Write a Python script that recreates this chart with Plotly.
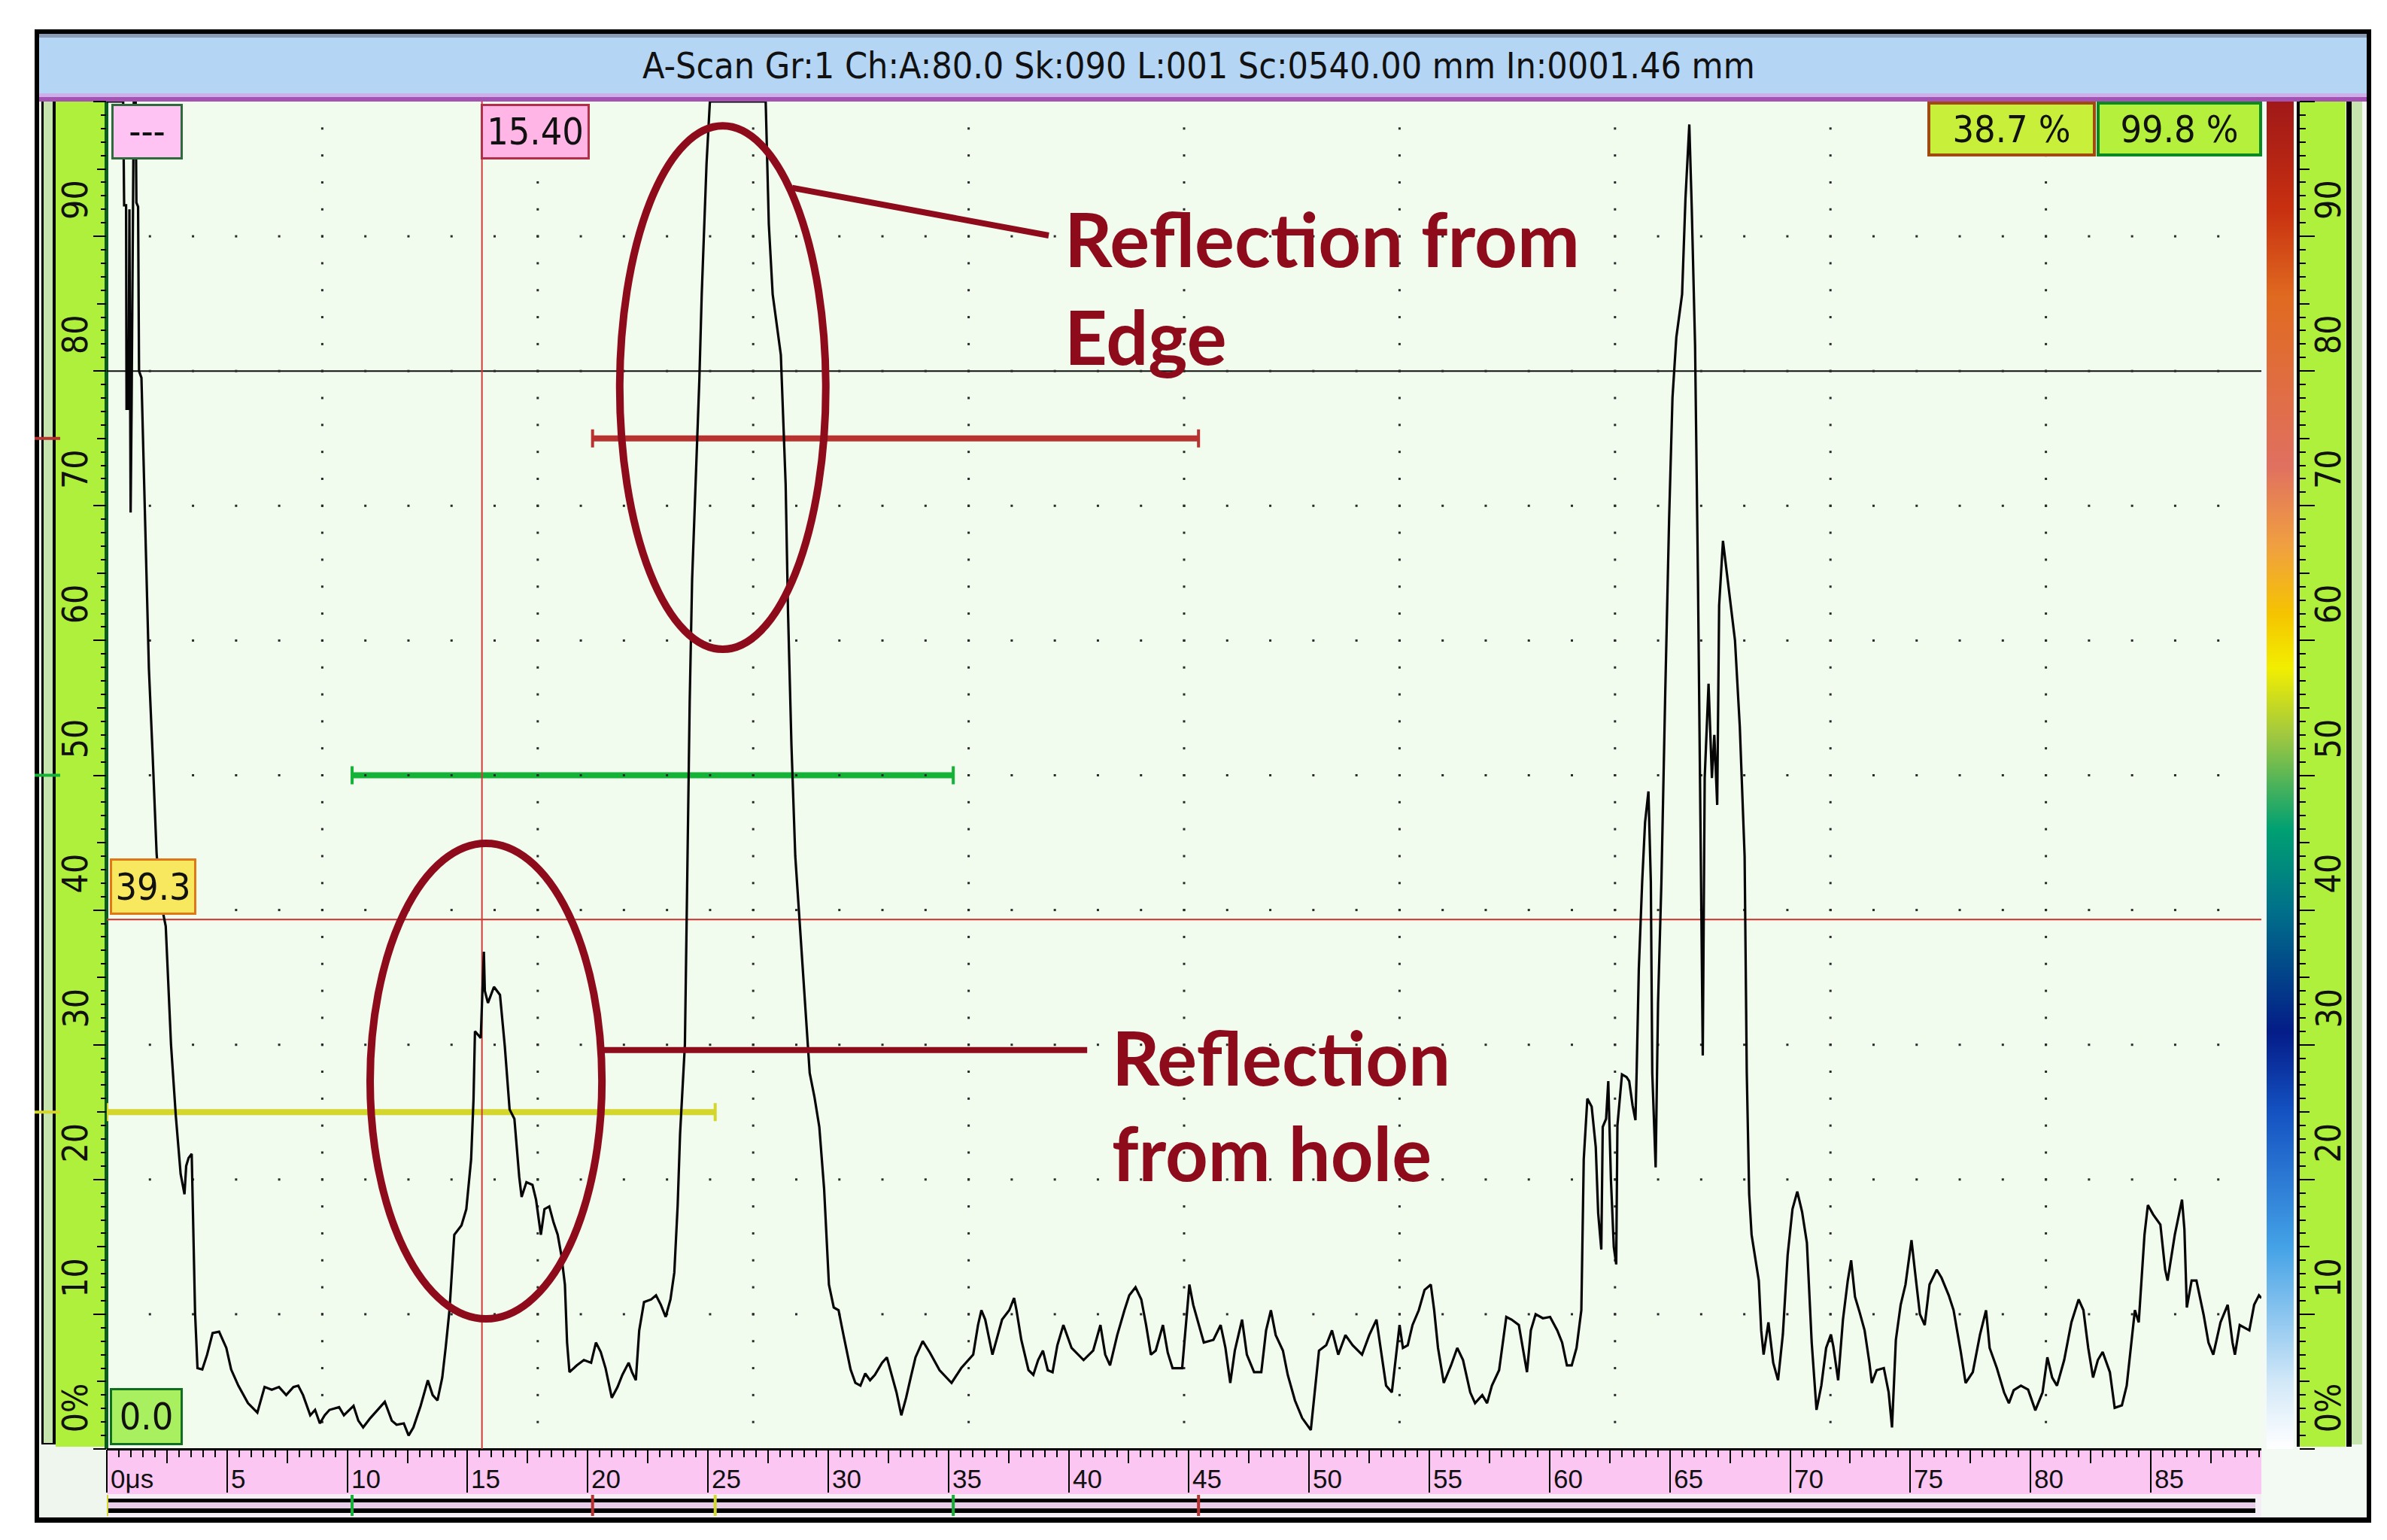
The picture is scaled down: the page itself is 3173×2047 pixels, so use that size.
import numpy as np
import plotly.graph_objects as go

W, H = 3173, 2047

# ---------------- data ----------------
t_us = [0.00, 0.68, 0.72, 0.80, 0.82, 0.90, 0.94, 0.99, 1.03, 1.08, 1.12, 1.20, 1.23, 1.30, 1.34, 1.44,
        1.60, 1.75, 1.91, 2.07, 2.20, 2.45, 2.67, 2.87, 3.07, 3.23, 3.30, 3.40, 3.53, 3.57, 3.67, 3.77,
        3.97, 4.17, 4.40, 4.67, 4.97, 5.17, 5.47, 5.87, 6.26, 6.56, 6.86, 7.16, 7.46, 7.76, 7.96, 8.16,
        8.46, 8.66, 8.86, 9.06, 9.26, 9.66, 9.86, 10.26, 10.46, 10.66, 10.96, 11.26, 11.56, 11.85, 12.05,
        12.35, 12.55, 12.75, 13.05, 13.35, 13.55, 13.75, 13.95, 14.09, 14.25, 14.45, 14.75, 14.95, 15.15,
        15.25, 15.31, 15.55, 15.68, 15.72, 15.85, 16.10, 16.35, 16.55, 16.75, 16.95, 17.15, 17.25, 17.45,
        17.70, 17.85, 18.05, 18.20, 18.40, 18.58, 18.75, 18.90, 19.05, 19.14, 19.24, 19.54, 19.84, 20.14,
        20.34, 20.54, 20.74, 21.00, 21.24, 21.44, 21.70, 21.84, 22.00, 22.14, 22.34, 22.64, 22.84, 23.04,
        23.24, 23.44, 23.60, 23.74, 23.84, 23.94, 24.04, 24.14, 24.24, 24.34, 24.48, 24.64, 24.74, 24.94,
        25.08, 27.40, 27.53, 27.69, 28.03, 28.23, 28.33, 28.47, 28.63, 28.83, 29.03, 29.23, 29.43, 29.63,
        29.83, 29.93, 30.03, 30.23, 30.43, 30.63, 30.93, 31.13, 31.34, 31.54, 31.74, 31.94, 32.24, 32.44,
        32.64, 32.84, 33.04, 33.24, 33.43, 33.63, 33.93, 34.23, 34.63, 35.13, 35.53, 35.83, 36.03, 36.23,
        36.37, 36.53, 36.83, 37.23, 37.53, 37.73, 37.83, 38.03, 38.33, 38.53, 38.73, 38.93, 39.13, 39.33,
        39.53, 39.78, 40.12, 40.62, 41.02, 41.32, 41.52, 41.72, 42.02, 42.32, 42.52, 42.78, 43.02, 43.22,
        43.42, 43.62, 43.92, 44.12, 44.32, 44.72, 44.92, 45.02, 45.18, 45.42, 45.62, 46.02, 46.32, 46.52,
        46.72, 46.91, 47.21, 47.41, 47.71, 48.01, 48.21, 48.41, 48.61, 48.91, 49.11, 49.41, 49.71, 50.07,
        50.21, 50.41, 50.71, 50.95, 51.21, 51.51, 51.81, 52.20, 52.50, 52.80, 53.00, 53.20, 53.44, 53.60,
        53.76, 53.90, 54.10, 54.30, 54.56, 54.80, 55.06, 55.20, 55.36, 55.60, 55.90, 56.16, 56.40, 56.70,
        56.90, 57.20, 57.40, 57.60, 57.90, 58.20, 58.42, 58.72, 58.92, 59.06, 59.22, 59.42, 59.72, 60.02,
        60.32, 60.52, 60.72, 60.92, 61.12, 61.32, 61.42, 61.57, 61.75, 61.92, 62.02, 62.15, 62.21, 62.35,
        62.44, 62.55, 62.67, 62.77, 62.82, 63.01, 63.20, 63.31, 63.45, 63.57, 63.62, 63.71, 63.85, 63.97,
        64.11, 64.21, 64.27, 64.41, 64.51, 64.65, 64.81, 64.97, 65.11, 65.27, 65.51, 65.65, 65.81, 65.91,
        66.05, 66.17, 66.31, 66.37, 66.45, 66.61, 66.75, 66.85, 66.97, 67.05, 67.21, 67.41, 67.71, 67.91,
        68.11, 68.20, 68.30, 68.40, 68.70, 68.80, 68.90, 69.10, 69.30, 69.50, 69.70, 69.90, 70.10, 70.30,
        70.50, 70.70, 70.90, 71.10, 71.30, 71.50, 71.70, 71.80, 72.00, 72.20, 72.40, 72.54, 72.70, 72.90,
        73.10, 73.30, 73.40, 73.60, 73.90, 74.10, 74.24, 74.40, 74.60, 74.80, 75.05, 75.20, 75.40, 75.60,
        75.80, 76.10, 76.30, 76.60, 76.80, 77.10, 77.30, 77.60, 77.90, 78.15, 78.30, 78.60, 78.90, 79.10,
        79.30, 79.60, 79.90, 80.20, 80.50, 80.70, 80.90, 81.10, 81.40, 81.70, 82.00, 82.20, 82.40, 82.60,
        82.80, 83.00, 83.30, 83.50, 83.80, 84.00, 84.20, 84.34, 84.50, 84.60, 84.74, 84.88, 85.10, 85.40,
        85.60, 85.70, 86.00, 86.30, 86.40, 86.50, 86.70, 86.90, 87.20, 87.40, 87.60, 87.90, 88.10, 88.20,
        88.40, 88.50, 88.70, 88.90, 89.10, 89.30, 89.50, 89.60]
amp_pct = [100, 100, 92.3, 92.3, 77.2, 77.2, 92.0, 69.5, 77.2, 92.2, 100, 100, 92.5, 92.2, 80.0, 79.5,
           67.6, 57.9, 51.3, 44.2, 41.0, 38.8, 30.0, 24.7, 20.4, 18.9, 21.0, 21.6, 21.9, 17.8, 10.1, 6.0,
           5.9, 7.0, 8.6, 8.7, 7.5, 5.9, 4.7, 3.4, 2.7, 4.6, 4.4, 4.6, 4.0, 4.6, 4.7, 4.0,
           2.5, 2.9, 1.9, 2.5, 2.9, 3.1, 2.5, 3.2, 2.1, 1.6, 2.3, 2.9, 3.5, 2.1, 1.8,
           1.9, 1.0, 1.6, 3.2, 5.1, 4.0, 3.6, 5.3, 7.5, 10.3, 15.9, 16.6, 17.8, 21.5,
           26.0, 31.0, 30.5, 36.9, 34.0, 33.1, 34.3, 33.7, 29.9, 25.2, 24.5, 20.2, 18.7, 19.8,
           19.6, 18.5, 15.9, 17.8, 18.0, 16.8, 15.9, 14.4, 12.2, 7.9, 5.7, 6.2, 6.6, 6.4,
           7.9, 7.2, 6.0, 3.8, 4.6, 5.5, 6.4, 5.7, 5.1, 8.8, 10.9, 11.1, 11.4, 10.7,
           9.8, 11.1, 13.1, 18.1, 23.4, 27.1, 30.0, 42.7, 55.5, 64.5, 71.6, 79.3, 85.7, 95.4,
           100, 100, 90.9, 85.7, 81.2, 71.6, 62.0, 52.3, 44.0, 38.8, 33.7, 27.9, 26.1, 23.9,
           19.3, 15.9, 12.2, 10.5, 10.3, 8.5, 5.9, 4.9, 4.7, 5.6, 5.1, 5.5, 6.4, 6.8,
           5.5, 4.2, 2.5, 3.8, 5.3, 6.8, 8.0, 7.15, 5.85, 4.9, 6.0, 6.6, 7.0, 9.2,
           10.3, 9.6, 7.0, 9.6, 10.3, 11.2, 10.3, 8.1, 5.85, 5.5, 6.6, 7.3, 5.85, 5.7,
           7.7, 9.2, 7.5, 6.6, 7.3, 9.2, 7.0, 6.2, 8.45, 10.3, 11.4, 12.0, 11.1, 9.2,
           7.0, 7.3, 9.2, 7.15, 6.0, 6.0, 10.3, 12.2, 10.7, 9.2, 7.9, 8.1, 9.2, 7.5,
           4.9, 7.3, 9.6, 7.0, 5.7, 5.7, 8.8, 10.3, 8.45, 7.3, 5.5, 3.6, 2.3, 1.4,
           3.8, 7.3, 7.7, 8.8, 7.0, 8.45, 7.7, 7.0, 8.45, 9.6, 7.15, 4.7, 4.2, 6.6,
           9.2, 7.5, 7.7, 9.2, 10.3, 11.8, 12.2, 10.3, 7.5, 4.9, 6.2, 7.5, 6.6, 4.2,
           3.4, 4.0, 3.4, 4.7, 5.85, 9.8, 9.6, 9.2, 7.0, 5.7, 8.8, 10.0, 9.7, 9.8,
           8.8, 7.9, 6.2, 6.2, 7.5, 10.3, 21.5, 26.0, 25.4, 22.4, 17.5, 14.8, 23.9, 24.5,
           27.3, 20.0, 15.0, 13.7, 24.0, 27.8, 27.6, 27.3, 25.5, 24.4, 28.0, 35.6, 42.1, 46.5,
           48.8, 42.1, 27.9, 20.9, 33.1, 42.1, 56.2, 69.0, 78.0, 82.5, 85.7, 92.8, 98.3, 92.2,
           81.9, 64.5, 40.1, 29.2, 49.8, 56.8, 49.8, 53.0, 47.8, 62.6, 67.4, 64.5, 60.0, 53.6,
           44.0, 27.9, 18.9, 15.9, 12.5, 8.8, 7.0, 9.4, 6.4, 5.1, 8.5, 14.4, 17.8, 19.1,
           17.6, 15.3, 7.9, 2.9, 4.7, 7.5, 8.5, 7.6, 5.1, 9.6, 12.5, 14.0, 11.3, 10.1,
           8.8, 6.4, 4.9, 5.85, 6.0, 4.2, 1.6, 8.1, 10.7, 12.2, 15.5, 13.1, 10.0, 9.2,
           12.2, 13.3, 12.7, 11.4, 10.3, 7.2, 4.9, 5.7, 8.5, 10.3, 7.5, 6.0, 4.2, 3.4,
           4.36, 4.7, 4.4, 2.87, 4.2, 6.8, 5.3, 4.7, 6.6, 9.4, 11.1, 10.3, 7.5, 5.3,
           6.6, 7.2, 5.7, 3.05, 3.24, 4.7, 8.1, 10.3, 9.4, 12.2, 15.9, 18.1, 17.4, 16.65,
           13.3, 12.5, 15.9, 18.5, 16.3, 10.5, 12.5, 12.5, 9.95, 7.9, 7.0, 9.4, 10.3, 10.7,
           7.9, 7.0, 9.2, 9.0, 8.8, 10.7, 11.4, 11.2]

x_tick_vals = [0, 5, 10, 15, 20, 25, 30, 35, 40, 45, 50, 55, 60, 65, 70, 75, 80, 85]
x_tick_text = ["0μs", "5", "10", "15", "20", "25", "30", "35", "40", "45", "50", "55", "60",
               "65", "70", "75", "80", "85"]
x_mid_vals = [2.5, 7.5, 12.5, 17.5, 22.5, 27.5, 32.5, 37.5, 42.5, 47.5, 52.5, 57.5, 62.5,
              67.5, 72.5, 77.5, 82.5, 87.5]
y_tick_vals = [0, 10, 20, 30, 40, 50, 60, 70, 80, 90]
y_tick_text = ["0%", "10", "20", "30", "40", "50", "60", "70", "80", "90"]
y_mid_vals = [5, 15, 25, 35, 45, 55, 65, 75, 85, 95]

gate_start = [0.0, 10.2, 20.2]
gate_end = [25.3, 35.2, 45.4]
gate_level = [25, 50, 75]
gate_color = ["#d4d62c", "#14b236", "#b83330"]

level_black = 80.0
level_ref = 39.3
cursor_t = 15.6
cursor_text = "15.40"
readout_text = ["38.7 %", "99.8 %"]
ref_text = "39.3"
zero_text = "0.0"
title_text = "A-Scan Gr:1 Ch:A:80.0 Sk:090 L:001 Sc:0540.00 mm In:0001.46 mm"
X_MAX = 89.6

# ---------------- geometry / style ----------------
NARROW = "Liberation Sans Narrow, Arial Narrow, DejaVu Sans Condensed, Liberation Sans, sans-serif"
REG = "Liberation Sans, Arial, sans-serif"
BOLD = "Lato, Carlito, Calibri, sans-serif"
ANN_RED = "#8e0b1c"
PX0, PX1, PY0, PY1 = 134, 2998, 127, 1918


def fx(px):
    return px / W


def fy(py):
    return 1 - py / H


shapes = []


def prect(x0, y0, x1, y1, fill, layer="below"):
    shapes.append(dict(type="rect", xref="paper", yref="paper", x0=fx(x0), x1=fx(x1),
                       y0=fy(y1), y1=fy(y0), fillcolor=fill, line=dict(width=0), layer=layer))


# frame pieces (outside the plot area)
prect(38, 31, 3144, 127, "#000000")
prect(44, 37, 3138, 120, "#b5d5f5")
prect(44, 37, 3138, 42, "#8a9bb5")
prect(44, 116, 3138, 121, "#cdb0ea")
prect(44, 121, 3138, 127, "#a452b4")
prect(38, 127, PX0, 2016, "#000000")
prect(44, 127, PX0, 2009, "#eef6ee")
prect(47, 127, 66, 1912, "#000000")
prect(50, 127, 62, 1910, "#c6e4ae")
prect(66, 127, 132, 1915, "#aef03c")
prect(131, 127, 136, 1918, "#0b5d1f")
prect(PX1, 127, 3144, 2016, "#000000")
prect(PX1, 127, 3138, 2009, "#f3f9f3")
prect(3045, 127, 3049, 1915, "#000000")
prect(3049, 127, 3110, 1915, "#aef03c")
prect(3111, 127, 3118, 1915, "#000000")
prect(3118, 127, 3132, 1912, "#c6e4ae")
prect(PX0, PY1, PX1, 2016, "#000000")
prect(PX0, PY1, PX1, 2009, "#f6eef6")
prect(PX0, PY1, PX1, 1978, "#fbc6f2")
prect(PX0, PY1 - 1, PX1, PY1 + 2, "#000000")
prect(136, 1984, 2990, 2003, "#000000")
prect(136, 1989, 2990, 1997, "#e8cce8")

# gate markers on the bottom bar and on the left strip
for s, e, c in zip(gate_start, gate_end, gate_color):
    for xv in (s, e):
        shapes.append(dict(type="line", xref="x", yref="paper", x0=xv, x1=xv,
                           y0=fy(2007), y1=fy(1979), line=dict(color=c, width=4), layer="below"))
for lv, c in zip(gate_level, gate_color):
    shapes.append(dict(type="line", xref="paper", yref="y", x0=fx(38), x1=fx(72), y0=lv, y1=lv,
                       line=dict(color=c, width=4), layer="below"))

# reference lines, gates, cursor (below the trace)
shapes.append(dict(type="line", xref="x", yref="y", x0=0, x1=X_MAX, y0=level_black, y1=level_black,
                   line=dict(color="#111111", width=2), layer="below"))
shapes.append(dict(type="line", xref="x", yref="y", x0=0, x1=X_MAX, y0=level_ref, y1=level_ref,
                   line=dict(color="#c8322e", width=2), layer="below"))
for s, e, lv, c in zip(gate_start, gate_end, gate_level, gate_color):
    shapes.append(dict(type="line", xref="x", yref="y", x0=s, x1=e, y0=lv, y1=lv,
                       line=dict(color=c, width=8), layer="below"))
    for xv in (s, e):
        shapes.append(dict(type="line", xref="x", yref="y", ysizemode="pixel", yanchor=lv,
                           x0=xv, x1=xv, y0=-12, y1=12, line=dict(color=c, width=4), layer="below"))
shapes.append(dict(type="line", xref="x", yref="y", x0=cursor_t, x1=cursor_t, y0=0, y1=100,
                   line=dict(color="#d03a3a", width=2), layer="below"))

# annotation ellipses and leader lines
shapes.append(dict(type="circle", xref="x", yref="y", x0=21.33, x1=29.9, y0=59.35, y1=98.2,
                   line=dict(color=ANN_RED, width=10), layer="above"))
shapes.append(dict(type="circle", xref="x", yref="y", x0=10.95, x1=20.59, y0=9.66, y1=44.95,
                   line=dict(color=ANN_RED, width=10), layer="above"))
shapes.append(dict(type="line", xref="x", yref="y", x0=28.5, y0=93.6, x1=39.17, y1=90.06,
                   line=dict(color=ANN_RED, width=8), layer="above"))
shapes.append(dict(type="line", xref="x", yref="y", x0=20.62, y0=29.6, x1=40.77, y1=29.6,
                   line=dict(color=ANN_RED, width=8), layer="above"))

# ---------------- annotations ----------------
annotations = []


def box(text, x0, y0, x1, y1, bg, border, bw=3, size=50, font=NARROW, color="#111111"):
    annotations.append(dict(text=text, xref="paper", yref="paper", x=fx((x0 + x1) / 2),
                            y=fy((y0 + y1) / 2), xanchor="center", yanchor="middle",
                            showarrow=False, width=x1 - x0 - 2 * bw, height=y1 - y0 - 2 * bw,
                            bgcolor=bg, bordercolor=border, borderwidth=bw, borderpad=0,
                            font=dict(family=font, size=size, color=color), align="center",
                            valign="middle"))


annotations.append(dict(text=title_text, xref="paper", yref="paper", x=fx(1585), y=fy(79),
                        xanchor="center", yanchor="middle", showarrow=False,
                        font=dict(family=NARROW, size=48, color="#111111")))
box("---", 140, 130, 235, 204, "#ffc3f3", "#2e6b3c")
box(cursor_text, 631, 130, 776, 204, "#ffb6e6", "#b0304a")
box(readout_text[0], 2554, 127, 2778, 200, "#c8f03a", "#a04a10", bw=4)
box(readout_text[1], 2779, 127, 2999, 200, "#b4f03c", "#0a8a20", bw=4)
box(ref_text, 138, 1133, 253, 1208, "#f8e860", "#e07818")
box(zero_text, 138, 1837, 235, 1913, "#a8f060", "#107020")

for v, t in zip(y_tick_vals, y_tick_text):
    for xc in (92, 3087):
        annotations.append(dict(text=t, xref="paper", yref="y", x=fx(xc), y=v + 1.1,
                                xanchor="center", yanchor="bottom", textangle=-90, showarrow=False,
                                font=dict(family=NARROW, size=46, color="#111111")))
for v, t in zip(x_tick_vals, x_tick_text):
    annotations.append(dict(text=t, xref="x", yref="paper", x=v, y=fy(1957), xanchor="left",
                            yanchor="middle", xshift=3, showarrow=False,
                            font=dict(family=REG, size=35, color="#111111")))

for txt, xl, yc in [("Reflection from", 1405, 308), ("Edge", 1405, 438),
                    ("Reflection", 1468, 1396), ("from hole", 1468, 1523)]:
    annotations.append(dict(text=txt, xref="paper", yref="paper", x=fx(xl), y=fy(yc),
                            xanchor="left", yanchor="middle", showarrow=False,
                            font=dict(family=BOLD, size=99, color=ANN_RED, weight="bold")))

# ---------------- traces ----------------
gx_cols = [X_MAX / 10 * k for k in range(1, 10)]
gy_rows = [10 * k for k in range(1, 10)]
dots_x, dots_y = [], []
for xc in gx_cols:
    for j in range(1, 50):
        dots_x.append(xc)
        dots_y.append(2 * j)
for yr in gy_rows:
    for m in range(1, 50):
        dots_x.append(X_MAX / 50 * m)
        dots_y.append(yr)

fig = go.Figure()
fig.add_trace(go.Scatter(x=dots_x, y=dots_y, mode="markers", hoverinfo="skip",
                         marker=dict(symbol="square", size=3, color="#2a2a2a", line=dict(width=0))))
fig.add_trace(go.Scatter(x=t_us, y=amp_pct, mode="lines", line=dict(color="#050505", width=3.2),
                         name="A-Scan"))
for xa, ya in [("x2", "y"), ("x", "y2"), ("x", "y3"), ("x", "y4")]:
    fig.add_trace(go.Scatter(x=[None], y=[None], xaxis=xa, yaxis=ya, hoverinfo="skip"))

levels = [i * 0.5 for i in range(201)]
cscale = [[0.0, "#ffffff"], [0.05, "#d2e8f8"], [0.15, "#44a2e6"], [0.25, "#1452c2"],
          [0.31, "#041c88"], [0.40, "#00708a"], [0.46, "#00a072"], [0.53, "#a0c840"],
          [0.58, "#f2ee00"], [0.62, "#f5c400"], [0.67, "#f0a040"], [0.73, "#e07060"],
          [0.855, "#e06a20"], [0.92, "#c83010"], [1.0, "#a01818"]]
fig.add_trace(go.Heatmap(x=[0], y=levels, z=[[v] for v in levels], colorscale=cscale,
                         zmin=0, zmax=100, showscale=False, xaxis="x3", yaxis="y5",
                         hoverinfo="skip", zsmooth="best"))

ydom = [fy(PY1), fy(PY0)]
tick_common = dict(showgrid=False, zeroline=False, showline=False, showticklabels=False,
                   tickcolor="#000000", tickwidth=2, ticks="outside")

fig.update_layout(
    width=W, height=H, margin=dict(l=0, r=0, t=0, b=0), autosize=False,
    paper_bgcolor="#ffffff", plot_bgcolor="#f1fbee", showlegend=False,
    xaxis=dict(domain=[fx(PX0), fx(PX1)], range=[0, X_MAX], anchor="y", tickmode="array",
               tickvals=x_tick_vals, ticklen=57,
               minor=dict(ticks="outside", tickmode="linear", tick0=0, dtick=0.5, ticklen=10,
                          tickwidth=2, tickcolor="#000000", showgrid=False), **tick_common),
    xaxis2=dict(overlaying="x", range=[0, X_MAX], anchor="y", tickmode="array",
                tickvals=x_mid_vals, ticklen=18, **tick_common),
    yaxis=dict(domain=ydom, range=[0, 100], anchor="x", tickmode="array",
               tickvals=y_tick_vals + [100], ticklen=17,
               minor=dict(ticks="outside", tickmode="linear", tick0=0, dtick=1, ticklen=7,
                          tickwidth=2, tickcolor="#000000", showgrid=False), **tick_common),
    yaxis2=dict(overlaying="y", range=[0, 100], anchor="x", side="left", tickmode="array",
                tickvals=y_mid_vals, ticklen=12, **tick_common),
    yaxis3=dict(overlaying="y", range=[0, 100], anchor="free", position=fx(3048), side="right",
                tickmode="array", tickvals=y_tick_vals + [100], ticklen=20,
                minor=dict(ticks="outside", tickmode="linear", tick0=0, dtick=1, ticklen=8,
                           tickwidth=2, tickcolor="#000000", showgrid=False), **tick_common),
    yaxis4=dict(overlaying="y", range=[0, 100], anchor="free", position=fx(3048), side="right",
                tickmode="array", tickvals=y_mid_vals, ticklen=13, **tick_common),
    xaxis3=dict(domain=[fx(3005), fx(3041)], anchor="y5", visible=False, range=[-0.5, 0.5]),
    yaxis5=dict(domain=ydom, anchor="x3", visible=False, range=[0, 100]),
    shapes=shapes, annotations=annotations,
)

fig.write_html("out.html")
